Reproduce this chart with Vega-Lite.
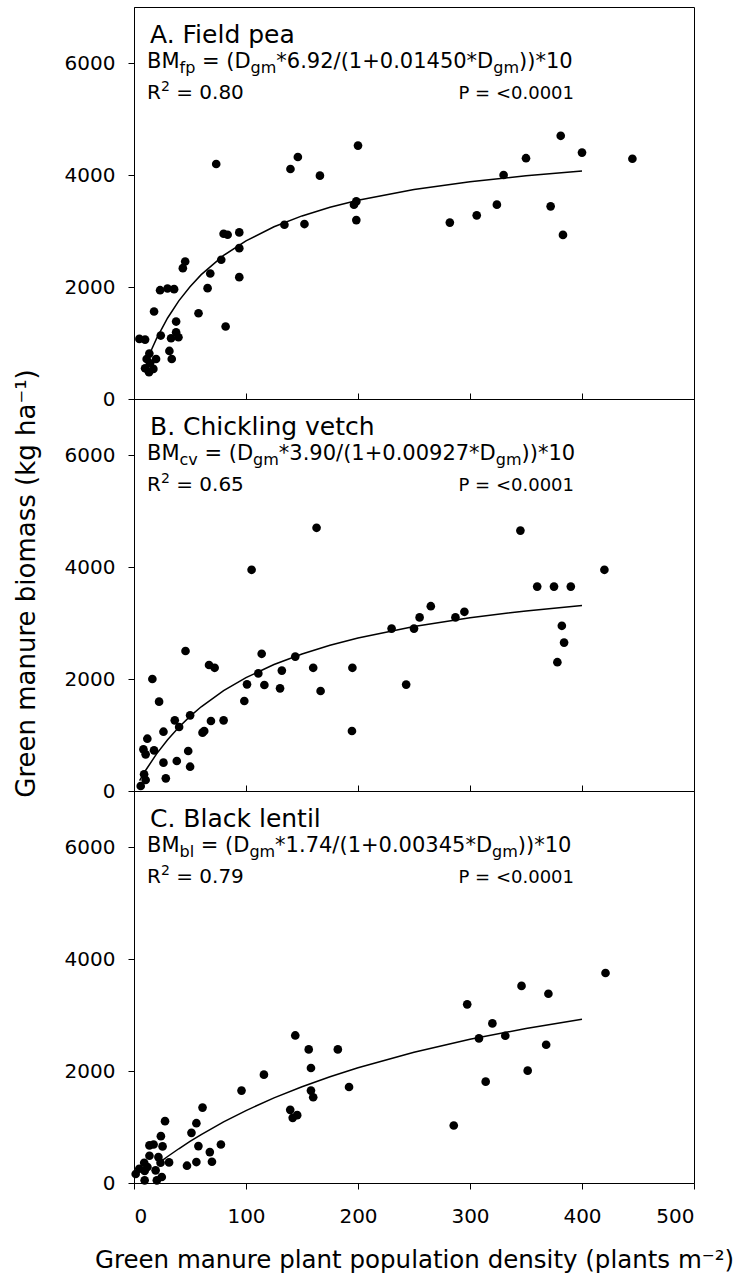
{
  "$schema": "https://vega.github.io/schema/vega-lite/v6.json",
  "padding": {"left": 12, "top": 6, "right": 5, "bottom": 2},
  "spacing": 0,
  "bounds": "flush",
  "config": {
    "font": "DejaVu Sans",
    "view": {"stroke": "black", "strokeWidth": 1},
    "text": {"align": "left", "baseline": "alphabetic", "color": "black", "font": "DejaVu Sans"},
    "axis": {"labelFont": "DejaVu Sans", "titleFont": "DejaVu Sans", "labelFontSize": 20, "titleFontSize": 24.5, "titleFontWeight": "normal", "labelColor": "black", "titleColor": "black", "domainColor": "black", "tickColor": "black", "grid": false}
  },
  "datasets": {
    "fp": [
      {"x": 4.8, "y": 1073}, {"x": 9.9, "y": 1061}, {"x": 17.9, "y": 1562}, {"x": 23.3, "y": 1943}, {"x": 29.9, "y": 1973}, {"x": 35.8, "y": 1961}, {"x": 23.9, "y": 1133}, {"x": 37.6, "y": 1383}, {"x": 37.6, "y": 1192}, {"x": 33.1, "y": 1085}, {"x": 39.7, "y": 1103}, {"x": 31.6, "y": 858}, {"x": 33.7, "y": 715}, {"x": 13.7, "y": 811}, {"x": 11.3, "y": 715}, {"x": 19.7, "y": 715}, {"x": 9.9, "y": 548}, {"x": 17.3, "y": 537}, {"x": 13.4, "y": 477}, {"x": 14.3, "y": 638}, {"x": 43.6, "y": 2337}, {"x": 45.7, "y": 2456}, {"x": 57.6, "y": 1532}, {"x": 65.7, "y": 1979}, {"x": 68.1, "y": 2241}, {"x": 77.9, "y": 2486}, {"x": 73.4, "y": 4197}, {"x": 80, "y": 2951}, {"x": 83.6, "y": 2933}, {"x": 81.8, "y": 1294}, {"x": 94, "y": 2975}, {"x": 94, "y": 2694}, {"x": 94, "y": 2176}, {"x": 134.3, "y": 3112}, {"x": 152.2, "y": 3124}, {"x": 139.7, "y": 4107}, {"x": 146.3, "y": 4322}, {"x": 166, "y": 3988}, {"x": 196.4, "y": 3469}, {"x": 198.5, "y": 3529}, {"x": 198.5, "y": 3195}, {"x": 200, "y": 4525},
      {"x": 282, "y": 3150}, {"x": 306, "y": 3280}, {"x": 324, "y": 3470}, {"x": 330, "y": 4000}, {"x": 350, "y": 4300}, {"x": 372, "y": 3440}, {"x": 381, "y": 4700}, {"x": 383, "y": 2930}, {"x": 400, "y": 4400}, {"x": 445, "y": 4290}
    ],
    "cv": [
      {"x": 6, "y": 89}, {"x": 8.4, "y": 744}, {"x": 9, "y": 298}, {"x": 10.4, "y": 196}, {"x": 10.4, "y": 655}, {"x": 11.9, "y": 934}, {"x": 16.4, "y": 2000}, {"x": 17.9, "y": 726}, {"x": 22.4, "y": 1595}, {"x": 26.3, "y": 506}, {"x": 26.3, "y": 1059}, {"x": 28.4, "y": 226}, {"x": 36.4, "y": 1262}, {"x": 38.2, "y": 536}, {"x": 40.3, "y": 1143}, {"x": 46, "y": 2500}, {"x": 48.4, "y": 714}, {"x": 50.1, "y": 434}, {"x": 50.1, "y": 1351}, {"x": 61.2, "y": 1042}, {"x": 62.7, "y": 1071}, {"x": 67, "y": 2250}, {"x": 68.7, "y": 1250}, {"x": 72, "y": 2200}, {"x": 80, "y": 1262}, {"x": 98.5, "y": 1607}, {"x": 100.9, "y": 1905}, {"x": 105, "y": 3950}, {"x": 111, "y": 2100}, {"x": 114, "y": 2450}, {"x": 116.4, "y": 1893}, {"x": 130.4, "y": 1833}, {"x": 132, "y": 2150}, {"x": 144, "y": 2400}, {"x": 160, "y": 2200}, {"x": 163, "y": 4700}, {"x": 166.6, "y": 1786}, {"x": 195, "y": 2200}, {"x": 194.6, "y": 1071},
      {"x": 230, "y": 2900}, {"x": 243, "y": 1900}, {"x": 250, "y": 2900}, {"x": 255, "y": 3100}, {"x": 265, "y": 3300}, {"x": 287, "y": 3100}, {"x": 295, "y": 3200}, {"x": 345, "y": 4650}, {"x": 360, "y": 3650}, {"x": 375, "y": 3650}, {"x": 378, "y": 2300}, {"x": 382, "y": 2950}, {"x": 384, "y": 2650}, {"x": 390, "y": 3650}, {"x": 420, "y": 3950}
    ],
    "bl": [
      {"x": 1.5, "y": 160}, {"x": 4.7, "y": 255}, {"x": 9.1, "y": 362}, {"x": 9.5, "y": 214}, {"x": 9.5, "y": 47}, {"x": 12, "y": 285}, {"x": 13.8, "y": 487}, {"x": 13.8, "y": 671}, {"x": 17.5, "y": 688}, {"x": 19.3, "y": 226}, {"x": 20.4, "y": 47}, {"x": 21.8, "y": 463}, {"x": 23.7, "y": 362}, {"x": 24, "y": 837}, {"x": 25.5, "y": 653}, {"x": 24.8, "y": 107}, {"x": 27.7, "y": 1104}, {"x": 31.3, "y": 368}, {"x": 47.3, "y": 309}, {"x": 51.3, "y": 896}, {"x": 55.7, "y": 1068}, {"x": 55.7, "y": 374}, {"x": 57.5, "y": 659}, {"x": 61.2, "y": 1347}, {"x": 67.7, "y": 552}, {"x": 69.6, "y": 380}, {"x": 77.6, "y": 688}, {"x": 96, "y": 1650}, {"x": 116, "y": 1935}, {"x": 139.5, "y": 1306}, {"x": 141.7, "y": 1163}, {"x": 145.7, "y": 1211}, {"x": 144, "y": 2635}, {"x": 156, "y": 2386}, {"x": 158, "y": 2053}, {"x": 158, "y": 1650}, {"x": 160, "y": 1531}, {"x": 182, "y": 2386}, {"x": 192, "y": 1715}, {"x": 285.5, "y": 1027}, {"x": 297.5, "y": 3190}, {"x": 308, "y": 2582}, {"x": 314, "y": 1810}, {"x": 320, "y": 2850}, {"x": 331.5, "y": 2629}, {"x": 351.5, "y": 2006}, {"x": 368, "y": 2469}, {"x": 346, "y": 3520}, {"x": 370, "y": 3380}, {"x": 421, "y": 3750}
    ],
    "fpfit": [
      {"x": 15, "y": 852.6}, {"x": 20, "y": 1072.9}, {"x": 30, "y": 1446.7}, {"x": 40, "y": 1751.9}, {"x": 50, "y": 2005.8}, {"x": 60, "y": 2220.3}, {"x": 80, "y": 2563.0}, {"x": 100, "y": 2824.5}, {"x": 125, "y": 3075.6}, {"x": 150, "y": 3269.3}, {"x": 175, "y": 3423.3}, {"x": 200, "y": 3548.7}, {"x": 250, "y": 3740.5}, {"x": 300, "y": 3880.4}, {"x": 350, "y": 3986.8}, {"x": 400, "y": 4070.6}
    ],
    "cvfit": [
      {"x": 5, "y": 186.4}, {"x": 10, "y": 356.9}, {"x": 20, "y": 658.0}, {"x": 30, "y": 915.4}, {"x": 40, "y": 1138.0}, {"x": 50, "y": 1332.4}, {"x": 60, "y": 1503.7}, {"x": 80, "y": 1791.5}, {"x": 100, "y": 2023.9}, {"x": 125, "y": 2258.3}, {"x": 150, "y": 2447.2}, {"x": 175, "y": 2602.7}, {"x": 200, "y": 2733.0}, {"x": 250, "y": 2939.0}, {"x": 300, "y": 3094.4}, {"x": 350, "y": 3215.9}, {"x": 400, "y": 3313.5}
    ],
    "blfit": [
      {"x": 25, "y": 400.5}, {"x": 30, "y": 473.0}, {"x": 40, "y": 611.6}, {"x": 50, "y": 742.0}, {"x": 60, "y": 865.0}, {"x": 80, "y": 1090.9}, {"x": 100, "y": 1293.7}, {"x": 125, "y": 1519.7}, {"x": 150, "y": 1719.9}, {"x": 175, "y": 1898.7}, {"x": 200, "y": 2059.2}, {"x": 250, "y": 2335.6}, {"x": 300, "y": 2565.1}, {"x": 350, "y": 2758.8}, {"x": 400, "y": 2924.4}
    ],
    "one": [{}]
  },
  "vconcat": [
    {
      "width": 560, "height": 392,
      "encoding": {
        "x": {"type": "quantitative", "scale": {"domain": [0, 500], "nice": false}, "axis": {"values": [0, 100, 200, 300, 400, 500], "labels": false, "tickSize": -6, "title": null}},
        "y": {"type": "quantitative", "scale": {"domain": [0, 7000], "nice": false}, "axis": {"values": [0, 2000, 4000, 6000], "format": "d", "tickSize": 6, "labelPadding": 13, "title": null}}
      },
      "layer": [
        {"data": {"name": "fp"}, "mark": {"type": "circle", "size": 75, "color": "black", "opacity": 1}, "encoding": {"x": {"field": "x"}, "y": {"field": "y"}}},
        {"data": {"name": "fpfit"}, "mark": {"type": "line", "color": "black", "strokeWidth": 1.5}, "encoding": {"x": {"field": "x"}, "y": {"field": "y"}}},
        {"data": {"name": "one"}, "mark": {"type": "text", "text": "A. Field pea", "fontSize": 25, "dx": 16, "dy": 36}, "encoding": {"x": {"datum": 0}, "y": {"datum": 7000}}},
        {"data": {"name": "one"}, "mark": {"type": "text", "text": "BM", "fontSize": 21, "dx": 13, "dy": 61}, "encoding": {"x": {"datum": 0}, "y": {"datum": 7000}}},
        {"data": {"name": "one"}, "mark": {"type": "text", "text": "fp", "fontSize": 16, "dx": 45.5, "dy": 66}, "encoding": {"x": {"datum": 0}, "y": {"datum": 7000}}},
        {"data": {"name": "one"}, "mark": {"type": "text", "text": "= (D", "fontSize": 21, "dx": 68.0, "dy": 61}, "encoding": {"x": {"datum": 0}, "y": {"datum": 7000}}},
        {"data": {"name": "one"}, "mark": {"type": "text", "text": "gm", "fontSize": 16, "dx": 116.6, "dy": 66}, "encoding": {"x": {"datum": 0}, "y": {"datum": 7000}}},
        {"data": {"name": "one"}, "mark": {"type": "text", "text": "*6.92/(1+0.01450*D", "fontSize": 21, "dx": 142.3, "dy": 61}, "encoding": {"x": {"datum": 0}, "y": {"datum": 7000}}},
        {"data": {"name": "one"}, "mark": {"type": "text", "text": "gm", "fontSize": 16, "dx": 359.3, "dy": 66}, "encoding": {"x": {"datum": 0}, "y": {"datum": 7000}}},
        {"data": {"name": "one"}, "mark": {"type": "text", "text": "))*10", "fontSize": 21, "dx": 385.0, "dy": 61}, "encoding": {"x": {"datum": 0}, "y": {"datum": 7000}}},
        {"data": {"name": "one"}, "mark": {"type": "text", "text": "R", "fontSize": 20, "dx": 13, "dy": 92}, "encoding": {"x": {"datum": 0}, "y": {"datum": 7000}}},
        {"data": {"name": "one"}, "mark": {"type": "text", "text": "2", "fontSize": 14, "dx": 27, "dy": 84}, "encoding": {"x": {"datum": 0}, "y": {"datum": 7000}}},
        {"data": {"name": "one"}, "mark": {"type": "text", "text": "= 0.80", "fontSize": 20, "dx": 42.2, "dy": 92}, "encoding": {"x": {"datum": 0}, "y": {"datum": 7000}}},
        {"data": {"name": "one"}, "mark": {"type": "text", "text": "P = <0.0001", "align": "right", "fontSize": 18, "dx": 440, "dy": 92}, "encoding": {"x": {"datum": 0}, "y": {"datum": 7000}}}
      ]
    },
    {
      "width": 560, "height": 392,
      "encoding": {
        "x": {"type": "quantitative", "scale": {"domain": [0, 500], "nice": false}, "axis": {"values": [0, 100, 200, 300, 400, 500], "labels": false, "tickSize": -6, "title": null}},
        "y": {"type": "quantitative", "scale": {"domain": [0, 7000], "nice": false}, "axis": {"values": [0, 2000, 4000, 6000], "format": "d", "tickSize": 6, "labelPadding": 13, "title": "Green manure biomass (kg ha⁻¹)", "titleFontSize": 26, "titlePadding": 25, "titleY": 184}}
      },
      "layer": [
        {"data": {"name": "cv"}, "mark": {"type": "circle", "size": 75, "color": "black", "opacity": 1}, "encoding": {"x": {"field": "x"}, "y": {"field": "y"}}},
        {"data": {"name": "cvfit"}, "mark": {"type": "line", "color": "black", "strokeWidth": 1.5}, "encoding": {"x": {"field": "x"}, "y": {"field": "y"}}},
        {"data": {"name": "one"}, "mark": {"type": "text", "text": "B. Chickling vetch", "fontSize": 25, "dx": 16, "dy": 36}, "encoding": {"x": {"datum": 0}, "y": {"datum": 7000}}},
        {"data": {"name": "one"}, "mark": {"type": "text", "text": "BM", "fontSize": 21, "dx": 13, "dy": 61}, "encoding": {"x": {"datum": 0}, "y": {"datum": 7000}}},
        {"data": {"name": "one"}, "mark": {"type": "text", "text": "cv", "fontSize": 16, "dx": 45.5, "dy": 66}, "encoding": {"x": {"datum": 0}, "y": {"datum": 7000}}},
        {"data": {"name": "one"}, "mark": {"type": "text", "text": "= (D", "fontSize": 21, "dx": 70.5, "dy": 61}, "encoding": {"x": {"datum": 0}, "y": {"datum": 7000}}},
        {"data": {"name": "one"}, "mark": {"type": "text", "text": "gm", "fontSize": 16, "dx": 119.1, "dy": 66}, "encoding": {"x": {"datum": 0}, "y": {"datum": 7000}}},
        {"data": {"name": "one"}, "mark": {"type": "text", "text": "*3.90/(1+0.00927*D", "fontSize": 21, "dx": 144.8, "dy": 61}, "encoding": {"x": {"datum": 0}, "y": {"datum": 7000}}},
        {"data": {"name": "one"}, "mark": {"type": "text", "text": "gm", "fontSize": 16, "dx": 361.8, "dy": 66}, "encoding": {"x": {"datum": 0}, "y": {"datum": 7000}}},
        {"data": {"name": "one"}, "mark": {"type": "text", "text": "))*10", "fontSize": 21, "dx": 387.5, "dy": 61}, "encoding": {"x": {"datum": 0}, "y": {"datum": 7000}}},
        {"data": {"name": "one"}, "mark": {"type": "text", "text": "R", "fontSize": 20, "dx": 13, "dy": 92}, "encoding": {"x": {"datum": 0}, "y": {"datum": 7000}}},
        {"data": {"name": "one"}, "mark": {"type": "text", "text": "2", "fontSize": 14, "dx": 27, "dy": 84}, "encoding": {"x": {"datum": 0}, "y": {"datum": 7000}}},
        {"data": {"name": "one"}, "mark": {"type": "text", "text": "= 0.65", "fontSize": 20, "dx": 42.2, "dy": 92}, "encoding": {"x": {"datum": 0}, "y": {"datum": 7000}}},
        {"data": {"name": "one"}, "mark": {"type": "text", "text": "P = <0.0001", "align": "right", "fontSize": 18, "dx": 440, "dy": 92}, "encoding": {"x": {"datum": 0}, "y": {"datum": 7000}}}
      ]
    },
    {
      "width": 560, "height": 392,
      "encoding": {
        "x": {"type": "quantitative", "scale": {"domain": [0, 500], "nice": false}, "axis": {"values": [0, 100, 200, 300, 400, 500], "tickSize": 6, "labelPadding": 17, "title": "Green manure plant population density (plants m⁻²)", "titlePadding": 22}},
        "y": {"type": "quantitative", "scale": {"domain": [0, 7000], "nice": false}, "axis": {"values": [0, 2000, 4000, 6000], "format": "d", "tickSize": 6, "labelPadding": 13, "title": null}}
      },
      "layer": [
        {"data": {"name": "bl"}, "mark": {"type": "circle", "size": 75, "color": "black", "opacity": 1}, "encoding": {"x": {"field": "x"}, "y": {"field": "y"}}},
        {"data": {"name": "blfit"}, "mark": {"type": "line", "color": "black", "strokeWidth": 1.5}, "encoding": {"x": {"field": "x"}, "y": {"field": "y"}}},
        {"data": {"name": "one"}, "mark": {"type": "text", "text": "C. Black lentil", "fontSize": 25, "dx": 16, "dy": 36}, "encoding": {"x": {"datum": 0}, "y": {"datum": 7000}}},
        {"data": {"name": "one"}, "mark": {"type": "text", "text": "BM", "fontSize": 21, "dx": 13, "dy": 61}, "encoding": {"x": {"datum": 0}, "y": {"datum": 7000}}},
        {"data": {"name": "one"}, "mark": {"type": "text", "text": "bl", "fontSize": 16, "dx": 45.5, "dy": 66}, "encoding": {"x": {"datum": 0}, "y": {"datum": 7000}}},
        {"data": {"name": "one"}, "mark": {"type": "text", "text": "= (D", "fontSize": 21, "dx": 66.8, "dy": 61}, "encoding": {"x": {"datum": 0}, "y": {"datum": 7000}}},
        {"data": {"name": "one"}, "mark": {"type": "text", "text": "gm", "fontSize": 16, "dx": 115.4, "dy": 66}, "encoding": {"x": {"datum": 0}, "y": {"datum": 7000}}},
        {"data": {"name": "one"}, "mark": {"type": "text", "text": "*1.74/(1+0.00345*D", "fontSize": 21, "dx": 141.1, "dy": 61}, "encoding": {"x": {"datum": 0}, "y": {"datum": 7000}}},
        {"data": {"name": "one"}, "mark": {"type": "text", "text": "gm", "fontSize": 16, "dx": 358.1, "dy": 66}, "encoding": {"x": {"datum": 0}, "y": {"datum": 7000}}},
        {"data": {"name": "one"}, "mark": {"type": "text", "text": "))*10", "fontSize": 21, "dx": 383.8, "dy": 61}, "encoding": {"x": {"datum": 0}, "y": {"datum": 7000}}},
        {"data": {"name": "one"}, "mark": {"type": "text", "text": "R", "fontSize": 20, "dx": 13, "dy": 92}, "encoding": {"x": {"datum": 0}, "y": {"datum": 7000}}},
        {"data": {"name": "one"}, "mark": {"type": "text", "text": "2", "fontSize": 14, "dx": 27, "dy": 84}, "encoding": {"x": {"datum": 0}, "y": {"datum": 7000}}},
        {"data": {"name": "one"}, "mark": {"type": "text", "text": "= 0.79", "fontSize": 20, "dx": 42.2, "dy": 92}, "encoding": {"x": {"datum": 0}, "y": {"datum": 7000}}},
        {"data": {"name": "one"}, "mark": {"type": "text", "text": "P = <0.0001", "align": "right", "fontSize": 18, "dx": 440, "dy": 92}, "encoding": {"x": {"datum": 0}, "y": {"datum": 7000}}}
      ]
    }
  ]
}
